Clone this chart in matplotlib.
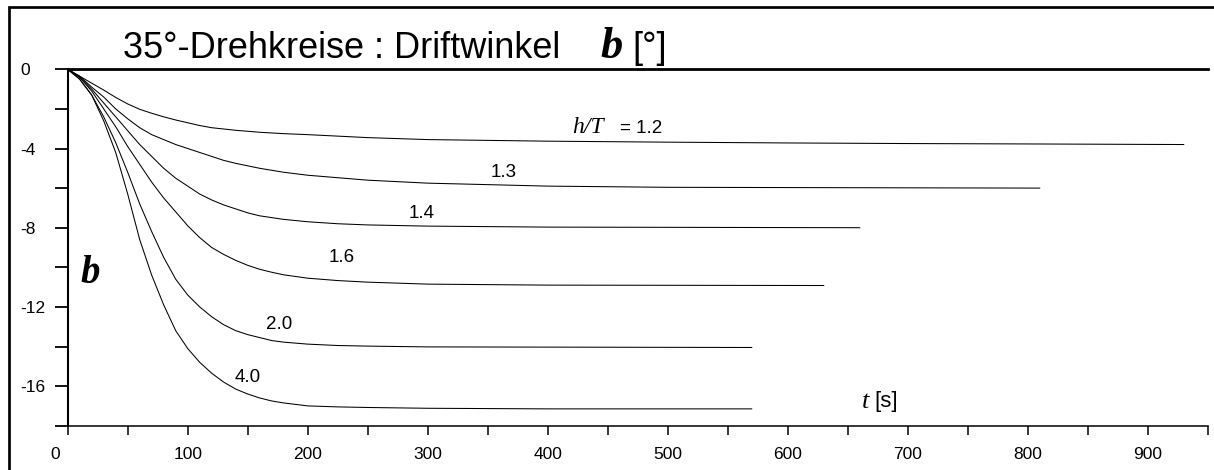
import numpy as np
import matplotlib
matplotlib.use("Agg")
import matplotlib.pyplot as plt
from matplotlib.patches import Rectangle
from matplotlib.ticker import MultipleLocator
import matplotlib.transforms as mtransforms

# drift angle beta [deg] over time t [s] for different h/T
t_12 = [0, 10, 20, 30, 40, 50, 60, 70, 80, 90, 100, 110, 120, 140, 160, 180, 200, 250, 300, 400, 500, 600, 700, 800, 930]
b_12 = [0, -0.35, -0.7, -1.05, -1.42, -1.75, -2.02, -2.22, -2.4, -2.56, -2.7, -2.84, -2.95, -3.08, -3.18, -3.25, -3.3, -3.45, -3.55, -3.63, -3.68, -3.72, -3.75, -3.77, -3.8]

t_13 = [0, 10, 20, 30, 40, 50, 60, 70, 80, 90, 100, 110, 120, 130, 140, 160, 180, 200, 250, 300, 400, 500, 810]
b_13 = [0, -0.35, -0.9, -1.4, -2.0, -2.5, -2.95, -3.3, -3.55, -3.8, -4.0, -4.2, -4.4, -4.6, -4.75, -5.0, -5.2, -5.35, -5.6, -5.75, -5.9, -5.96, -6.0]

t_14 = [0, 10, 20, 30, 40, 50, 60, 70, 80, 90, 100, 110, 120, 130, 140, 150, 160, 180, 200, 225, 250, 300, 400, 660]
b_14 = [0, -0.4, -1.0, -1.7, -2.4, -3.1, -3.8, -4.4, -5.0, -5.5, -5.9, -6.3, -6.6, -6.85, -7.05, -7.25, -7.4, -7.58, -7.7, -7.8, -7.86, -7.92, -7.97, -8.0]

t_16 = [0, 10, 20, 30, 40, 50, 60, 70, 80, 90, 100, 110, 120, 130, 140, 150, 160, 170, 180, 200, 225, 250, 300, 400, 630]
b_16 = [0, -0.4, -1.1, -2.0, -2.9, -3.9, -4.8, -5.7, -6.5, -7.2, -7.9, -8.5, -9.0, -9.35, -9.65, -9.9, -10.1, -10.25, -10.38, -10.55, -10.67, -10.75, -10.85, -10.9, -10.92]

t_20 = [0, 10, 20, 30, 40, 50, 60, 70, 80, 90, 100, 110, 120, 130, 140, 150, 160, 170, 180, 200, 225, 250, 300, 570]
b_20 = [0, -0.5, -1.3, -2.4, -3.7, -5.2, -6.8, -8.2, -9.5, -10.6, -11.4, -12.0, -12.5, -12.9, -13.2, -13.4, -13.55, -13.7, -13.78, -13.88, -13.95, -13.98, -14.02, -14.05]

t_40 = [0, 10, 20, 30, 40, 50, 60, 70, 80, 90, 100, 110, 120, 130, 140, 150, 160, 170, 180, 200, 225, 250, 300, 400, 570]
b_40 = [0, -0.5, -1.3, -2.6, -4.2, -6.3, -8.6, -10.4, -11.9, -13.2, -14.1, -14.8, -15.35, -15.8, -16.15, -16.4, -16.6, -16.75, -16.85, -17.0, -17.05, -17.08, -17.12, -17.15, -17.15]

curves = [(t_12, b_12), (t_13, b_13), (t_14, b_14), (t_16, b_16), (t_20, b_20), (t_40, b_40)]

curve_labels = ["1.3", "1.4", "1.6", "2.0", "4.0"]
label_pos = [(363, -5.19), (295, -7.26), (228, -9.53), (176, -12.91), (150, -15.59)]

W, H = 1214, 470
fig = plt.figure(figsize=(W / 100, H / 100), dpi=100)
plt.rcParams['font.family'] = 'Liberation Sans'

x0, x1 = 67.7, 1207.7
y0, y1 = 69.3, 425.7
ax = fig.add_axes([x0 / W, 1 - y1 / H, (x1 - x0) / W, (y1 - y0) / H])

for t, b in curves:
    ax.plot(t, b, color='black', lw=0.75)

ax.set_xlim(0, 950)
ax.set_ylim(-18, 0)

ax.spines['right'].set_visible(False)
ax.spines['top'].set_linewidth(2.0)
ax.spines['left'].set_linewidth(1.5)
ax.spines['bottom'].set_linewidth(1.1)

ax.xaxis.set_major_locator(MultipleLocator(100))
ax.xaxis.set_minor_locator(MultipleLocator(50))
ax.yaxis.set_major_locator(MultipleLocator(4))
ax.yaxis.set_minor_locator(MultipleLocator(2))
ax.tick_params(axis='x', which='both', direction='out', length=6.5, width=1.1, pad=9, labelsize=12.5)
ax.tick_params(axis='y', which='both', direction='out', length=9.1, width=1.3, pad=25.2, labelsize=12.5)
ax.set_yticks([0, -4, -8, -12, -16])
ax.set_yticklabels(["0", "-4", "-8", "-12", "-16"])
for lab in ax.get_yticklabels():
    lab.set_ha('left')
ax.set_xticks(range(0, 1000, 100))
ax.set_xticklabels([str(v) for v in range(0, 1000, 100)])
# the "0" at the origin sits left of its tick
zl = ax.get_xticklabels()[0]
zl.set_transform(zl.get_transform() + mtransforms.ScaledTranslation(-12.5 / 100, 0, fig.dpi_scale_trans))

for lab, (tx, by) in zip(curve_labels, label_pos):
    ax.text(tx, by, lab, fontsize=13.5, ha='center', va='center')

ax.text(420, -3.22, "h/T", fontsize=17, family='Liberation Serif', style='italic', va='baseline')
ax.text(460, -3.22, "= 1.2", fontsize=13.5, va='baseline')
ax.text(668, -16.8, "t", fontsize=19, family='Liberation Serif', style='italic', va='center', ha='right')
ax.text(672, -16.8, "[s]", fontsize=16, va='center', ha='left')
ax.text(18.7, -10.3, "b", fontsize=28, family='Liberation Serif', style='italic', weight='bold', ha='center', va='center')

# title
fig.text(123 / W, 1 - 58 / H, "35°-Drehkreise : Driftwinkel", fontsize=26, va='baseline')
fig.text(600 / W, 1 - 58 / H, "b", fontsize=32, family='Liberation Serif', style='italic', weight='bold', va='baseline')
fig.text(632 / W, 1 - 58 / H, "[°]", fontsize=26, va='baseline')

# outer frame, cut off at right and bottom
fig.patches.append(Rectangle((8.7 / W, -0.2), 1.5, 1.2 - 7.3 / H, transform=fig.transFigure,
                             fill=False, lw=1.95, ec='black'))

fig.savefig("out.png", dpi=100)
